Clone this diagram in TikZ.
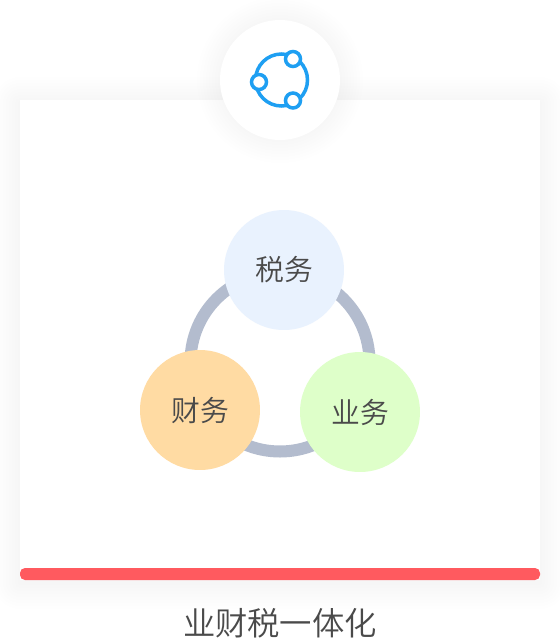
\documentclass[tikz,border=0pt]{standalone}
\usepackage{fontspec}
\newfontfamily\cjk{Noto Sans CJK SC DemiLight}
\definecolor{ring}{HTML}{B3BCCE}
\definecolor{shui}{HTML}{E9F2FE}
\definecolor{cai}{HTML}{FFDBA3}
\definecolor{ye}{HTML}{DEFFC9}
\definecolor{bar}{HTML}{FF5A5F}
\definecolor{iconblue}{HTML}{1E9FF2}
\definecolor{inkgrey}{HTML}{4A4A4A}
\tikzset{
    base/.style={inner sep=0pt, outer sep=0pt},
    bubble/.style={base, circle, minimum size=2.4cm, text=inkgrey, font=\cjk\fontsize{16.4}{16.4}\selectfont},
    iconnode/.style={base, circle, draw=iconblue, fill=white, line width=0.07cm, minimum size=0.3cm},
}
\begin{document}
\begin{tikzpicture}[x=0.02cm, y=-0.02cm, base]
    \path [use as bounding box] (0,0) rectangle (560,640);
    \fill [white] (0,0) rectangle (560,640);
    % card shadow
    \foreach \s in {2,5,...,26}
        \fill [black, opacity=0.004, rounded corners=\s*0.02cm] (20-\s,100-\s+3) rectangle (540+\s,580+\s+3);
    \fill [white] (20,100) rectangle (540,580);
    \fill [bar, rounded corners=0.1cm] (20,568) rectangle (540,580);
    % badge on top of the card
    \foreach \s in {2,5,...,23}
        \fill [black, opacity=0.004] (280,80) circle (60+\s);
    \node [base, circle, fill=white, minimum size=2.4cm] (badge) at (280,80) {};
    \draw [iconblue, line width=0.07cm] (281.5,80) circle (26);
    \node [iconnode] (icona) at (293,59) {};
    \node [iconnode] (iconb) at (259,82) {};
    \node [iconnode] (iconc) at (293,100.5) {};
    % ring and the three circles
    \draw [ring, line width=0.24cm] (280,362) circle (89.5);
    \node [bubble, fill=shui] (shuiwu) at (284,270) {\raisebox{-0.6pt}{税务}};
    \node [bubble, fill=cai] (caiwu) at (200,410) {\raisebox{-0.6pt}{财务}};
    \node [bubble, fill=ye] (yewu) at (360,412) {\raisebox{-0.6pt}{业务}};
    \node [base, text=inkgrey, font=\cjk\fontsize{18.4}{18.4}\selectfont] (title) at (280,623.5) {业财税一体化};
\end{tikzpicture}
\end{document}
